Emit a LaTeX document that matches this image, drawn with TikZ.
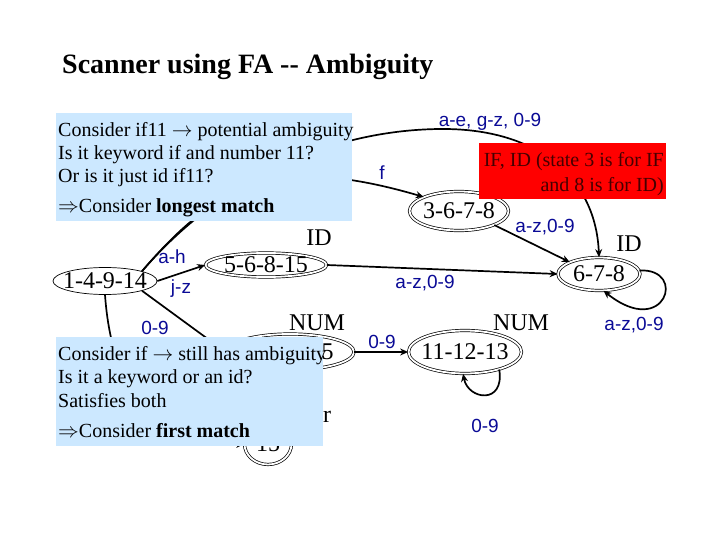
\documentclass[tikz,border=0pt]{standalone}
\usepackage{fontspec}
\setmainfont{Liberation Serif}
\newfontfamily\arialf{Liberation Sans}
\usetikzlibrary{arrows.meta,shapes.geometric}
\definecolor{boxblue}{RGB}{204,232,255}
\definecolor{lblblue}{RGB}{10,10,150}
\definecolor{darkred}{RGB}{70,0,0}
\newcommand{\zw}[1]{\makebox[0pt]{#1}}
\begin{document}
\begin{tikzpicture}[x=1pt,y=-1pt,
  st/.style={ellipse, draw, line width=0.7pt, inner sep=0pt, font=\fontsize{24}{24}\selectfont},
  dst/.style={st, double, double distance=1.8pt},
  edge/.style={line width=1.7pt, -{Stealth[length=8pt,width=7pt]}},
  lbl/.style={font=\arialf\fontsize{19}{19}\selectfont, text=lblblue, inner sep=0pt, anchor=base},
  tag/.style={font=\fontsize{24}{24}\selectfont, inner sep=0pt},
  boxtxt/.style={font=\fontsize{20}{20}\selectfont, inner sep=0pt, anchor=base west},
]
\useasboundingbox (0,0) rectangle (720,540);
\fill[white] (0,0) rectangle (720,540);

% title
\node[anchor=base west, font=\bfseries\fontsize{28}{28}\selectfont, inner sep=0pt] (title) at (62,74) {Scanner using FA -{}- Ambiguity};

% states
\node[st, minimum width=104pt, minimum height=27pt] (s1) at (105,281) {\zw{1-4-9-14}};
\node[dst, minimum width=121pt, minimum height=24pt] (s5) at (266,265) {\zw{5-6-8-15}};
\node[dst, minimum width=99pt, minimum height=39pt] (s3) at (459,211) {\zw{3-6-7-8}};
\node[dst, minimum width=82pt, minimum height=33pt] (s6) at (599,274) {\zw{6-7-8}};
\node[dst, minimum width=113pt, minimum height=43pt] (s11) at (465,352) {\zw{11-12-13}};
\node[dst, minimum width=128pt, minimum height=36pt] (sn) at (290,352) {\zw{\phantom{10-11-1}5}};
\node[dst, minimum width=47pt, minimum height=41pt] (s15) at (268,444) {\zw{15}};

% state tags
\node[tag] (t5) at (319,238) {ID};
\node[tag] (tn) at (317,323) {NUM};
\node[tag] (t11) at (521,323) {NUM};
\node[tag] (t6) at (629,244) {ID};

% transitions
\draw[edge] (s1.east) -- (s5.west);
\draw[edge] (s1.north east) .. controls (220,180) and (280,155) .. (s3.north west);
\draw[edge] (s1.north east) .. controls (220,180) and (330,130) .. (440,129)
                            .. controls (540,128) and (596,180) .. (s6.north);
\draw[edge] (s3.south east) -- (s6.north west);
\draw[edge] (s5.east) -- (s6.west);
\draw[edge] (s6.5) .. controls (688,268) and (665,340) .. (s6.-75);
\draw[edge] (s1.south east) -- (sn.west);
\draw[edge] (sn.east) -- (s11.west);
\draw[edge] (s11.-27) .. controls (505,405) and (468,400) .. (s11.-95);
\draw[edge] (s1.south) .. controls (114,420) and (180,447) .. (s15.west);

% transition labels
\node[lbl] (l1) at (490,127) {a-e, g-z, 0-9};
\node[lbl] (l2) at (382,180) {f};
\node[lbl] (l3) at (545,233) {a-z,0-9};
\node[lbl] (l4) at (172,263) {a-h};
\node[lbl] (l5) at (181,293) {j-z};
\node[lbl] (l6) at (425,288) {a-z,0-9};
\node[lbl] (l7) at (634,330) {a-z,0-9};
\node[lbl] (l8) at (155,334) {0-9};
\node[lbl] (l9) at (382,348) {0-9};
\node[lbl] (l10) at (485,432) {0-9};

% note box 1
\node[fill=boxblue, inner sep=0pt, minimum width=296pt, minimum height=108pt, anchor=north west] (box1) at (56,113) {};
\node[boxtxt] (b1a) at (58,137) {Consider if11 $\rightarrow$ potential ambiguity};
\node[boxtxt] (b1b) at (58,160) {Is it keyword if and number 11?};
\node[boxtxt] (b1c) at (58,183) {Or is it just id if11?};
\node[boxtxt] (b1d) at (58,213) {$\Rightarrow$Consider \textbf{longest match}};

% red box
\node[fill=red, inner sep=0pt, minimum width=187pt, minimum height=56pt, anchor=north west] (rbox) at (479,143) {};
\node[font=\fontsize{20}{20}\selectfont, text=darkred, inner sep=0pt, anchor=base east] (r1) at (664,167) {IF, ID (state 3 is for IF};
\node[font=\fontsize{20}{20}\selectfont, text=darkred, inner sep=0pt, anchor=base east] (r2) at (664,192) {and 8 is for ID)};

% note box 2
\node[fill=boxblue, inner sep=0pt, minimum width=267pt, minimum height=109pt, anchor=north west] (box2) at (56,337) {};
\node[boxtxt] (b2a) at (58,360) {Consider if $\rightarrow$ still has ambiguity};
\node[boxtxt] (b2b) at (58,383) {Is it a keyword or an id?};
\node[boxtxt] (b2c) at (58,407) {Satisfies both};
\node[boxtxt] (b2d) at (58,437) {$\Rightarrow$Consider \textbf{first match}};
\node[tag, anchor=base] (t15) at (327,422) {r};
\end{tikzpicture}
\end{document}
